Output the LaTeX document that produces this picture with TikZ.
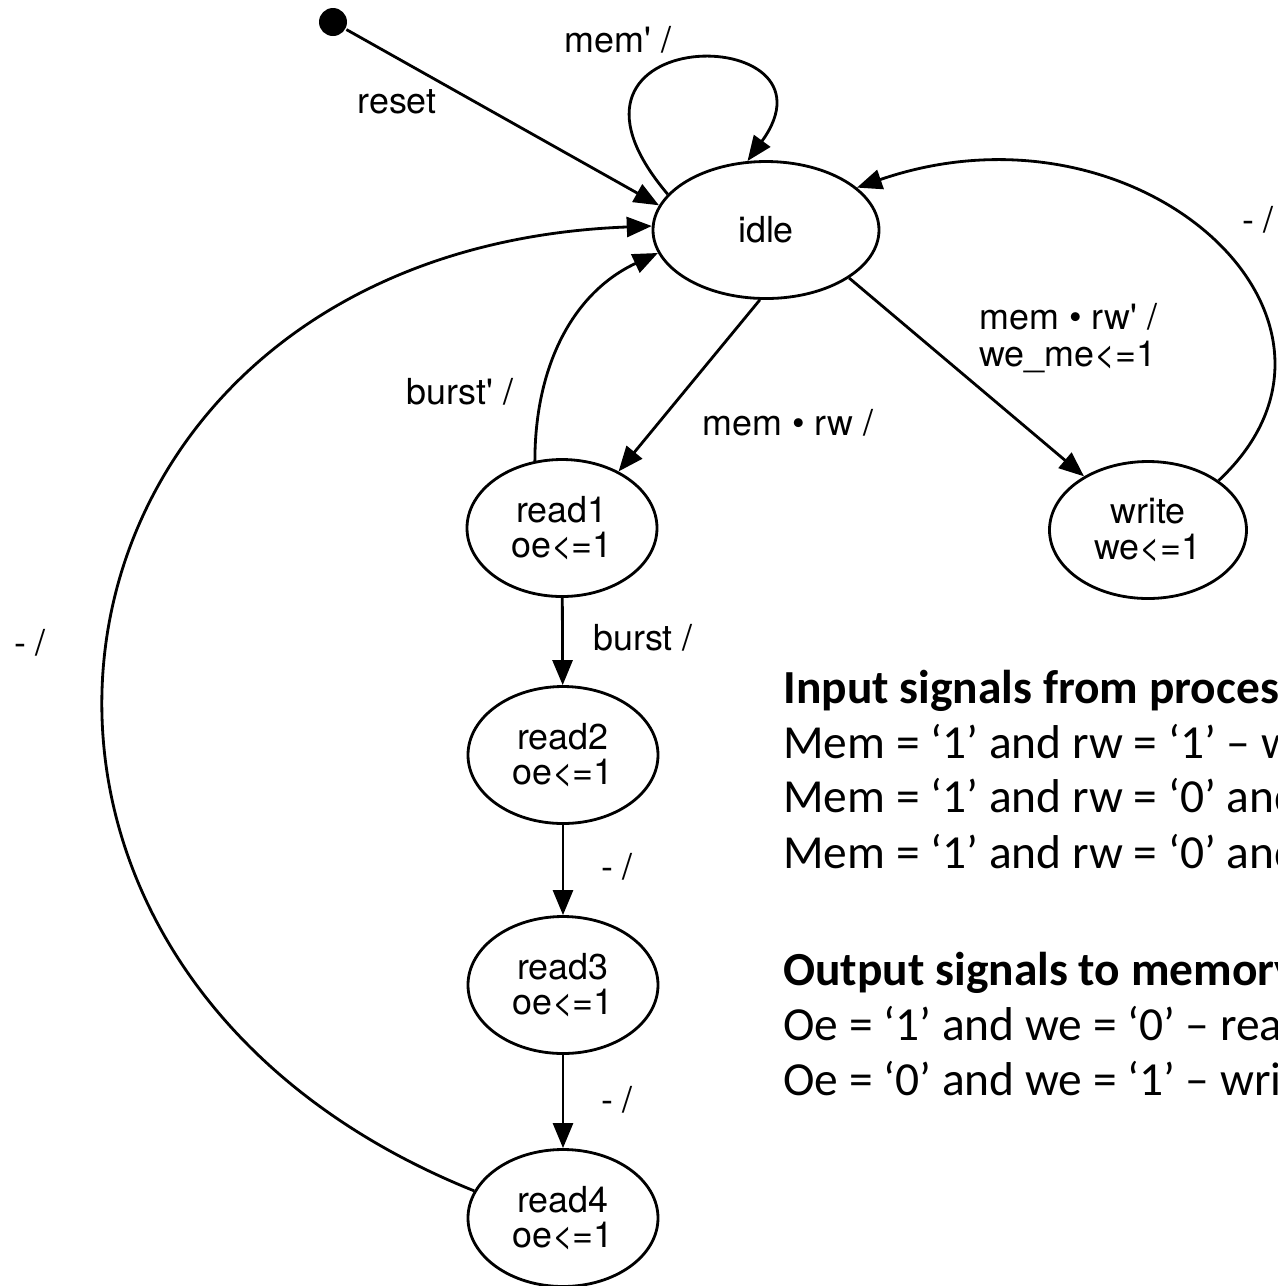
\documentclass[tikz,border=0pt]{standalone}
\usepackage{fontspec}
\usetikzlibrary{arrows.meta,shapes.geometric}
\newfontfamily\diagfont{TeX Gyre Heros}
\newfontfamily\notefont{Carlito}

\begin{document}
\begin{tikzpicture}[thick,
  state/.style={draw,ellipse,minimum width=1.9cm,minimum height=1.37cm,inner sep=1pt,align=center,font=\diagfont\fontsize{10.2}{10}\selectfont},
  lbl/.style={font=\diagfont\fontsize{10.2}{10.5}\selectfont,inner sep=0},
  note/.style={font=\notefont\fontsize{13.5}{15.8}\selectfont,anchor=base west,inner sep=0},
  notehead/.style={note,font=\notefont\bfseries\fontsize{13.5}{15.8}\selectfont},
  >={Triangle[length=0.25cm,width=0.2cm]}]

\useasboundingbox (0,0) rectangle (12.78,-12.86);

% states
\node[fill,circle,minimum size=0.28cm,inner sep=0] (init) at (3.33,-0.22) {};
\node[state,minimum width=2.26cm] (idle) at (7.66,-2.30) {idle};
\node[state,minimum width=1.97cm] (write) at (11.48,-5.30) {write\\we<=1};
\node[state] (read1) at (5.62,-5.28) {read1\\oe<=1};
\node[state] (read2) at (5.63,-7.55) {read2\\oe<=1};
\node[state] (read3) at (5.63,-9.85) {read3\\oe<=1};
\node[state] (read4) at (5.63,-12.18) {read4\\oe<=1};

% transitions
\draw[->] (init) -- (idle.167);
\draw[->] (idle.160) .. controls (5.2,-0.2) and (8.5,-0.2) .. (idle.105);
\draw[->] (idle.-30) -- (write.140);
\draw[->] (write.35) .. controls (13.9,-3.2) and (11.4,-0.9) .. (idle.25);
\draw[->] (idle.-95) -- (read1.45);
\draw[->] (read1.112) to[out=90,in=205] (idle.192);
\draw[->] (read1) -- (read2);
\draw[->] (read2) -- (read3);
\draw[->] (read3) -- (read4);
\draw[->] (read4.163) .. controls (-1.0,-9.6) and (0.2,-2.5) .. (idle.178);

% labels
\node[lbl] (resetlbl) at (3.97,-1.02) {reset};
\node[lbl] (memnlbl) at (6.18,-0.40) {mem' /};
\node[lbl,anchor=west,align=left] (wrlbl) at (9.78,-3.38) {mem \textbullet{} rw' /\\we\_me<=1};
\node[lbl] (rdlbl) at (7.88,-4.23) {mem \textbullet{} rw /};
\node[lbl] (bnlbl) at (4.60,-3.92) {burst' /};
\node[lbl] (blbl) at (6.43,-6.38) {burst /};
\node[lbl] (d1lbl) at (6.17,-8.67) {- /};
\node[lbl] (d2lbl) at (6.17,-11.00) {- /};
\node[lbl] (d3lbl) at (0.30,-6.43) {- /};
\node[lbl] (d4lbl) at (12.58,-2.20) {- /};

% signal notes
\node[notehead] (inhead) at (7.82,-7.03) {Input signals from proces};
\node[note] (in1) at (7.82,-7.58) {Mem = ‘1’ and rw = ‘1’ – w};
\node[note] (in2) at (7.82,-8.12) {Mem = ‘1’ and rw = ‘0’ and};
\node[note] (in3) at (7.82,-8.68) {Mem = ‘1’ and rw = ‘0’ and};
\node[notehead] (outhead) at (7.82,-9.85) {Output signals to memory};
\node[note] (out1) at (7.82,-10.40) {Oe = ‘1’ and we = ‘0’ – rea};
\node[note] (out2) at (7.82,-10.95) {Oe = ‘0’ and we = ‘1’ – wri};

\end{tikzpicture}
\end{document}
